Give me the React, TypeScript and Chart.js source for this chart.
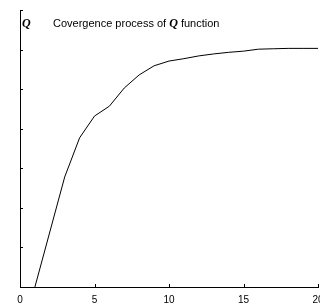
import React, { useEffect, useRef } from "react";
import { Chart, registerables } from "chart.js";

Chart.register(...registerables);

const iterations = [1, 2, 3, 4, 5, 6, 7, 8, 9, 10, 11, 12, 13, 14, 15, 16, 17, 18, 19, 20];
const qValues = [0, 1.39, 2.78, 3.77, 4.32, 4.57, 5.03, 5.36, 5.59, 5.71, 5.77, 5.84, 5.89, 5.93, 5.96, 6.01, 6.02, 6.03, 6.03, 6.03];
const xTicks = [0, 5, 10, 15, 20];
const yTicks = [0, 1, 2, 3, 4, 5, 6, 7];
const titleSymbol = "Q";
const titlePrefix = "Covergence process of ";
const titleSuffix = " function";

const inwardTicks = {
  id: "inwardTicks",
  afterDraw(chart: any) {
    const { ctx, chartArea, scales } = chart;
    ctx.save();
    ctx.strokeStyle = "#000";
    ctx.lineWidth = 1;
    ctx.beginPath();
    for (const v of yTicks) {
      const y = Math.round(scales.y.getPixelForValue(v)) + 0.5;
      ctx.moveTo(chartArea.left, y);
      ctx.lineTo(chartArea.left + 3, y);
    }
    for (const v of xTicks) {
      const x = Math.round(scales.x.getPixelForValue(v)) + 0.5;
      ctx.moveTo(x, chartArea.bottom);
      ctx.lineTo(x, chartArea.bottom - 3);
    }
    ctx.stroke();

    // title
    ctx.fillStyle = "#000";
    ctx.textBaseline = "alphabetic";
    const baseY = 27;
    const qFont = "italic bold 12px 'Liberation Serif'";
    const tFont = "11px 'Liberation Sans'";
    ctx.font = qFont;
    ctx.fillText(titleSymbol, chartArea.left + 2, baseY);
    let x = 53;
    ctx.font = tFont;
    ctx.fillText(titlePrefix, x, baseY);
    x += ctx.measureText(titlePrefix).width;
    ctx.font = qFont;
    ctx.fillText(titleSymbol, x, baseY);
    x += ctx.measureText(titleSymbol).width;
    ctx.font = tFont;
    ctx.fillText(titleSuffix, x, baseY);
    ctx.restore();
  },
};

export default function App() {
  const ref = useRef<HTMLCanvasElement>(null);
  useEffect(() => {
    const chart = new Chart(ref.current!, {
      type: "line",
      data: {
        datasets: [
          {
            data: iterations.map((it, i) => ({ x: it, y: qValues[i] })),
            borderColor: "#000",
            borderWidth: 1,
            pointRadius: 0,
            tension: 0,
            fill: false,
          },
        ],
      },
      options: {
        responsive: false,
        animation: false,
        layout: { padding: { left: 20, top: 10, right: 2, bottom: 0 } },
        plugins: { legend: { display: false }, tooltip: { enabled: false }, title: { display: false } },
        scales: {
          x: {
            type: "linear",
            min: 0,
            max: 20,
            afterBuildTicks: (scale: any) => {
              scale.ticks = xTicks.map((v) => ({ value: v }));
            },
            afterFit: (scale: any) => {
              scale.paddingRight = 0;
              scale.paddingLeft = 0;
              scale.height = 18;
            },
            grid: { display: false, drawTicks: false },
            border: { display: true, color: "#000", width: 1 },
            ticks: {
              padding: 7,
              color: "#000",
              font: { family: "'Liberation Sans'", size: 10 },
              maxRotation: 0,
              autoSkip: false,
            },
          },
          y: {
            type: "linear",
            min: 0,
            max: 7,
            afterBuildTicks: (scale: any) => {
              scale.ticks = yTicks.map((v) => ({ value: v }));
            },
            grid: { display: false, drawTicks: false },
            border: { display: true, color: "#000", width: 1 },
            ticks: { display: false },
          },
        },
      },
      plugins: [inwardTicks],
    });
    return () => chart.destroy();
  }, []);
  return (
    <div style={{ position: "absolute", left: 0, top: 0, width: 320, height: 305, background: "#fff" }}>
      <canvas ref={ref} width={320} height={305} />
    </div>
  );
}
